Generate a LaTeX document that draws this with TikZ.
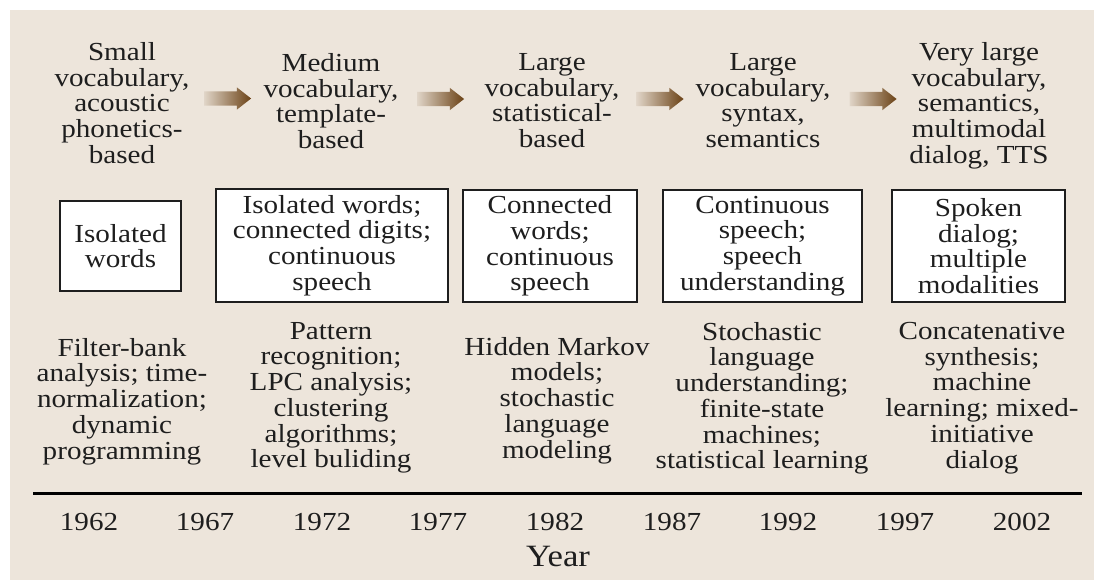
\documentclass[tikz,border=0pt]{standalone}
\usepackage{fontspec}
\setmainfont{Liberation Serif}[FakeStretch=1.12]
\usetikzlibrary{shapes.arrows}
\definecolor{paper}{HTML}{EDE5DB}
\definecolor{arrowbrown}{HTML}{6B4216}
\definecolor{ink}{HTML}{1E1E1E}
\begin{document}
\begin{tikzpicture}[x=1pt,y=-1pt,
  txt/.style={align=center, text=ink, inner sep=0pt, anchor=north,
    font=\fontsize{26}{25.75}\selectfont},
  era/.style={draw=ink, line width=1.8pt, fill=white, align=center, text=ink,
    inner sep=0pt, font=\fontsize{26}{25.75}\selectfont},
  flow/.style={single arrow, single arrow head extend=4pt,
    single arrow tip angle=76, minimum height=47pt,
    text height=7pt, text depth=7pt, text width=0pt,
    inner sep=0pt, draw=none, left color=arrowbrown!10!paper, right color=arrowbrown},
  yr/.style={text=ink, anchor=base, inner sep=0pt, font=\fontsize{26}{26}\selectfont}]

\useasboundingbox (0,0) rectangle (1094,580);
\fill[white] (0,0) rectangle (1094,580);
\fill[paper] (10,10) rectangle (1094,580);

% vocabulary / approach stages
\node[txt] (t1) at (122,42.2) {Small\\vocabulary,\\acoustic\\phonetics-\\based};
\node[txt] (t2) at (331,53.2) {Medium\\vocabulary,\\template-\\based};
\node[txt] (t3) at (552,53.2) {Large\\vocabulary,\\statistical-\\based};
\node[txt] (t4) at (763,53.2) {Large\\vocabulary,\\syntax,\\semantics};
\node[txt] (t5) at (979,42.2) {Very large\\vocabulary,\\semantics,\\multimodal\\dialog, TTS};

% progression arrows
\node[flow] (a1) at (223,98.5) {};
\node[flow] (a2) at (436,99) {};
\node[flow] (a3) at (655.5,99) {};
\node[flow] (a4) at (868.5,99) {};

% task boxes
\node[era, minimum width=121pt, minimum height=90pt] (b1) at (120.5,246) {Isolated\\words};
\node[era, minimum width=232pt, minimum height=113pt] (b2) at (332,245.5) {Isolated words;\\connected digits;\\continuous\\speech};
\node[era, minimum width=174pt, minimum height=112pt] (b3) at (550,246) {Connected\\words;\\continuous\\speech};
\node[era, minimum width=199pt, minimum height=112pt] (b4) at (762.5,246) {Continuous\\speech;\\speech\\understanding};
\node[era, minimum width=173pt, minimum height=112pt] (b5) at (978.5,246) {Spoken\\dialog;\\multiple\\modalities};

% techniques
\node[txt] (m1) at (122,338) {Filter-bank\\analysis; time-\\normalization;\\dynamic\\programming};
\node[txt] (m2) at (331,322) {Pattern\\recognition;\\LPC analysis;\\clustering\\algorithms;\\level buliding};
\node[txt] (m3) at (557,337) {Hidden Markov\\models;\\stochastic\\language\\modeling};
\node[txt] (m4) at (762,322) {Stochastic\\language\\understanding;\\finite-state\\machines;\\statistical learning};
\node[txt] (m5) at (982,322) {Concatenative\\synthesis;\\machine\\learning; mixed-\\initiative\\dialog};

% time axis
\coordinate (axL) at (33,493);
\coordinate (axR) at (1082,493);
\draw[line width=3pt, black] (axL) -- (axR);

\node[yr] (y1962) at (89,530) {1962};
\node[yr] (y1967) at (205,530) {1967};
\node[yr] (y1972) at (322,530) {1972};
\node[yr] (y1977) at (438,530) {1977};
\node[yr] (y1982) at (555,530) {1982};
\node[yr] (y1987) at (672,530) {1987};
\node[yr] (y1992) at (788,530) {1992};
\node[yr] (y1997) at (905,530) {1997};
\node[yr] (y2002) at (1022,530) {2002};

\node[yr, font=\fontsize{31}{31}\selectfont] (year) at (558,566) {Year};
\end{tikzpicture}
\end{document}
